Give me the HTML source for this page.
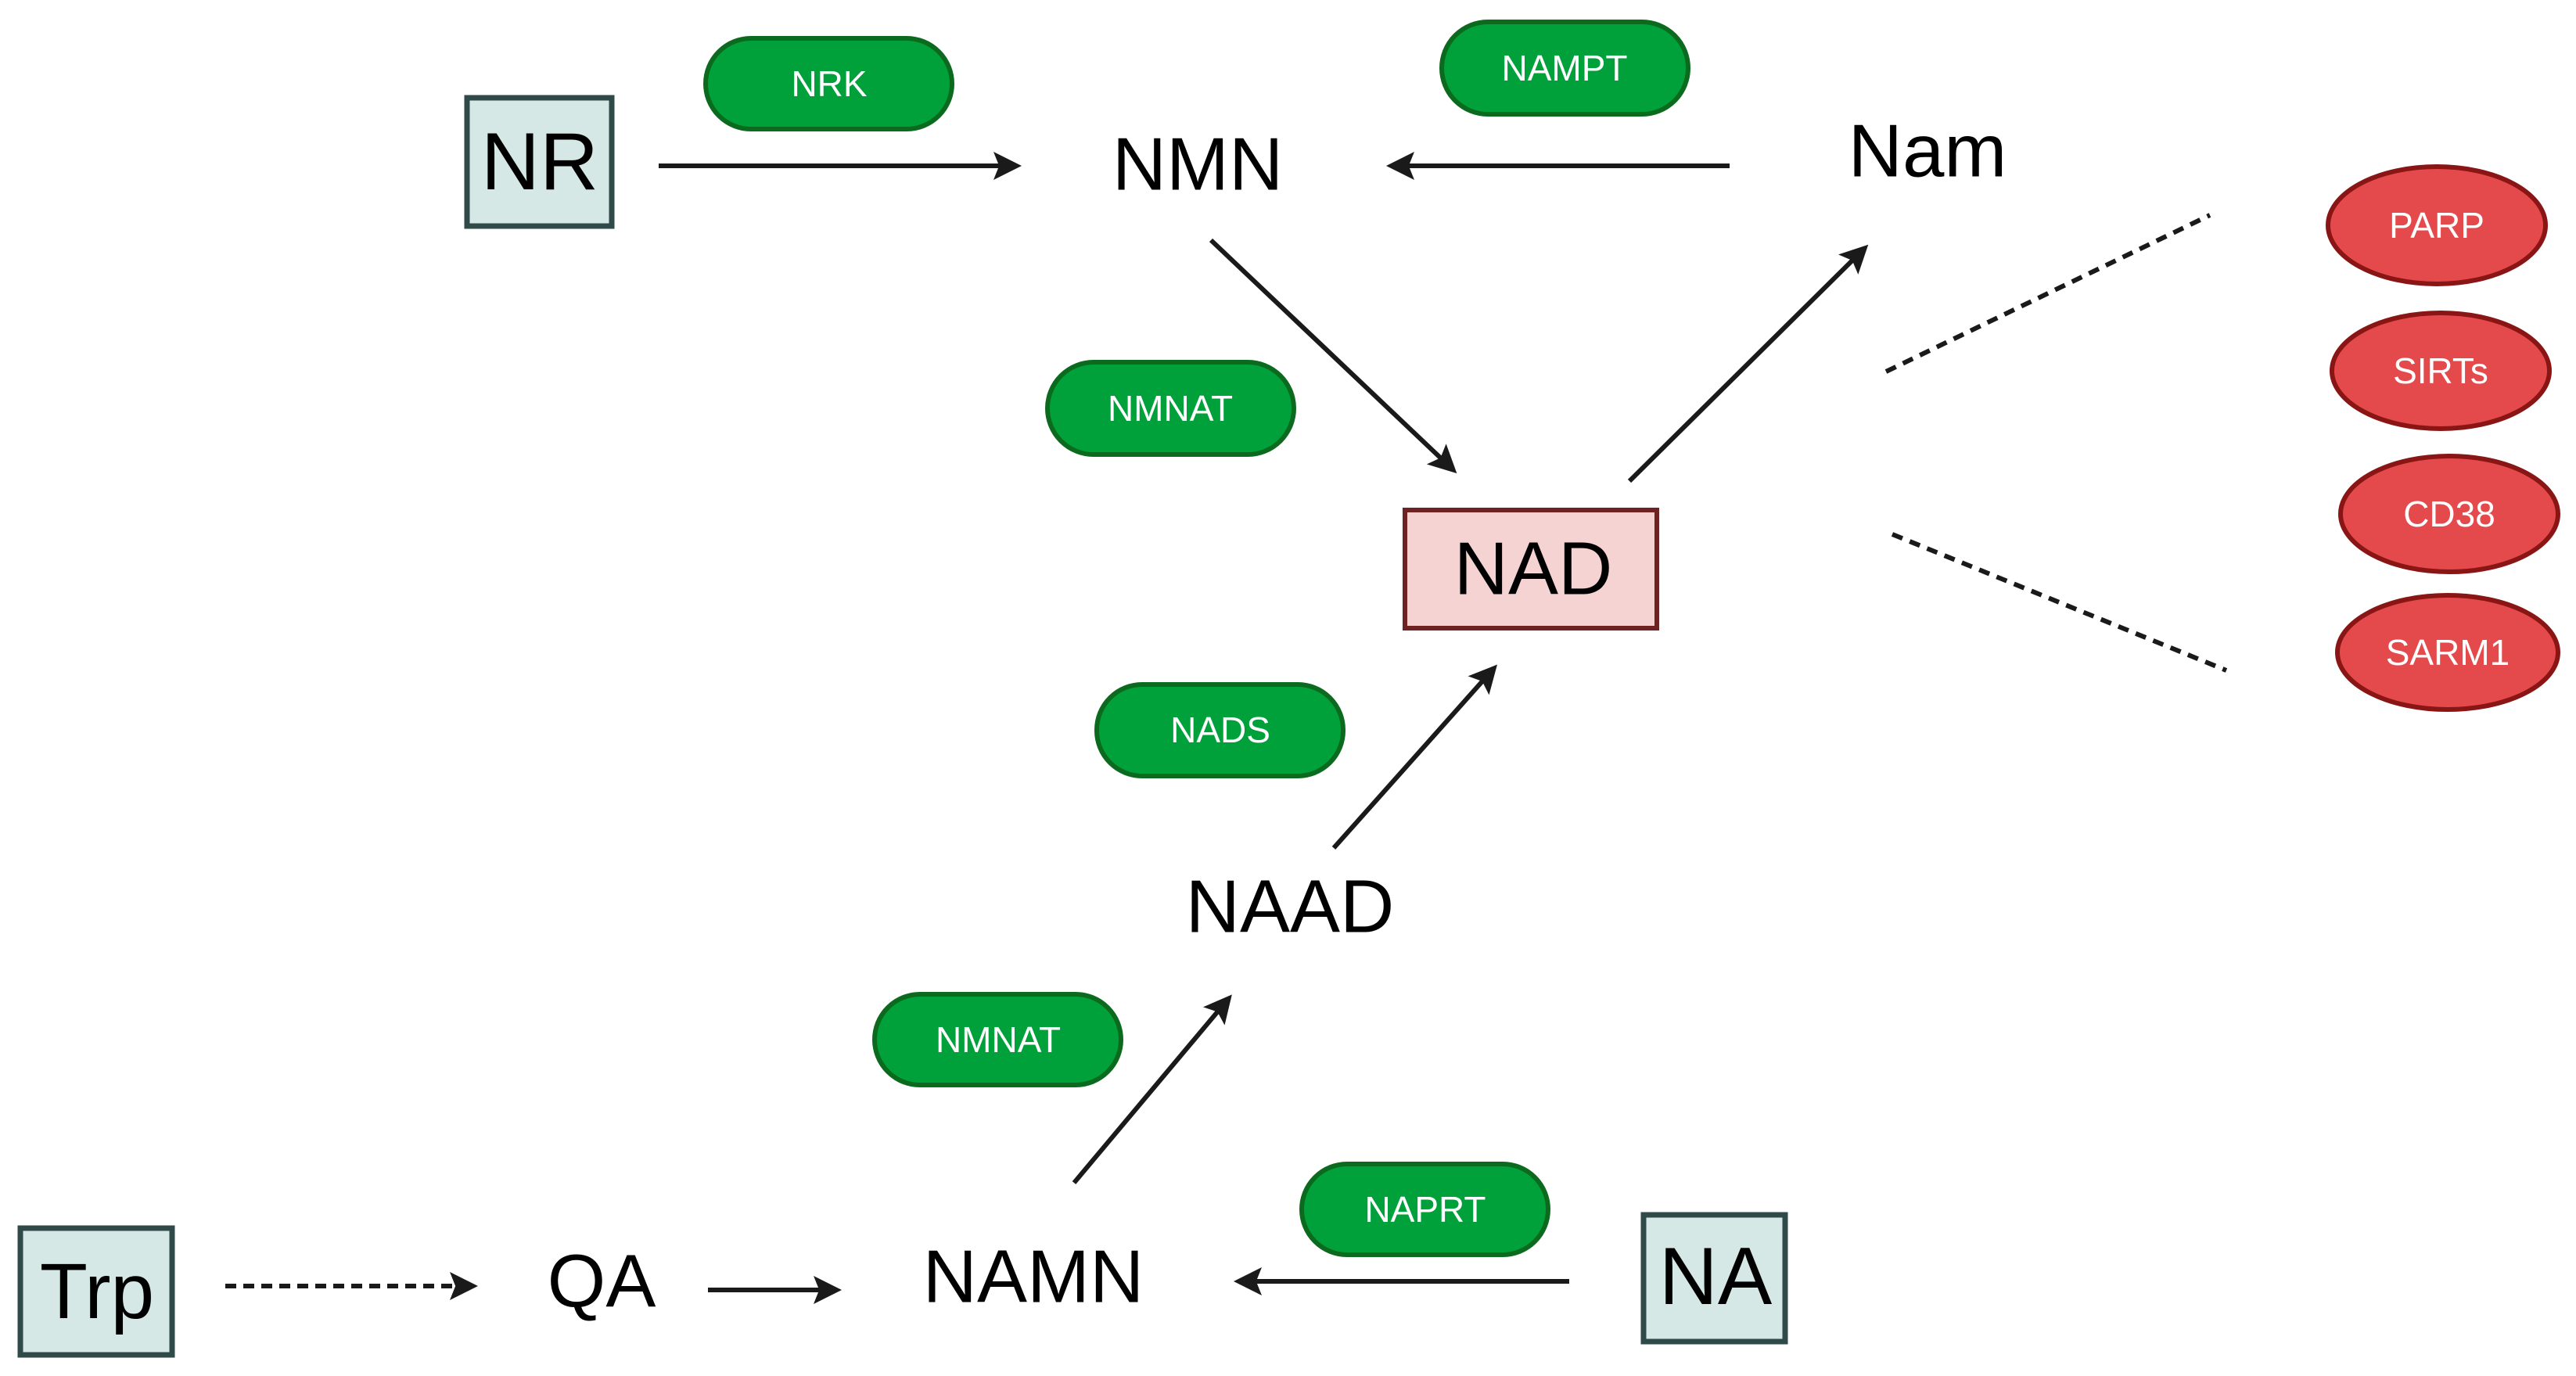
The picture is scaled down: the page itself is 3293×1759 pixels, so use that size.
<!DOCTYPE html>
<html><head><meta charset="utf-8"><style>
html,body{margin:0;padding:0;background:#fff;}
svg{display:block;}
text{font-family:"Liberation Sans",sans-serif;}
</style></head><body>
<svg width="3293" height="1759" viewBox="0 0 3293 1759" xmlns="http://www.w3.org/2000/svg">
<defs>
<marker id="ah" markerWidth="6" markerHeight="6" refX="5" refY="3" orient="auto" markerUnits="strokeWidth">
<path d="M0,0 L6,3 L0,6 L1.2,3 z" fill="#1a1a1a"/>
</marker>
</defs>
<g stroke="#1a1a1a" stroke-width="6" fill="none">
<line x1="842" y1="212" x2="1300" y2="212" marker-end="url(#ah)"/>
<line x1="2211" y1="212" x2="1778" y2="212" marker-end="url(#ah)"/>
<line x1="1548" y1="307" x2="1858" y2="601" marker-end="url(#ah)"/>
<line x1="2083" y1="615" x2="2384" y2="317" marker-end="url(#ah)"/>
<line x1="1705" y1="1084" x2="1910" y2="854" marker-end="url(#ah)"/>
<line x1="1373" y1="1512" x2="1571" y2="1276" marker-end="url(#ah)"/>
<line x1="2006" y1="1638" x2="1583" y2="1638" marker-end="url(#ah)"/>
<line x1="905" y1="1649" x2="1070" y2="1649" marker-end="url(#ah)"/>
<line x1="288" y1="1644" x2="605" y2="1644" stroke-dasharray="14,9" marker-end="url(#ah)"/>
<line x1="2411" y1="475" x2="2825" y2="275" stroke-dasharray="14,10"/>
<line x1="2419" y1="683" x2="2846" y2="857" stroke-dasharray="14,10"/>
</g>
<!-- boxes -->
<g stroke="#2f4a48" stroke-width="7" fill="#d5e8e5">
<rect x="597" y="125" width="185" height="164"/>
<rect x="2101" y="1553" width="181" height="162"/>
<rect x="26" y="1570" width="194" height="162"/>
</g>
<rect x="1796" y="652" width="322" height="151" fill="#f5d3d3" stroke="#6e2222" stroke-width="6"/>
<!-- green pills -->
<g fill="#00a13a" stroke="#0b6a1e" stroke-width="6">
<rect x="902" y="49" width="315" height="116" rx="58"/>
<rect x="1843" y="28" width="315" height="118" rx="59"/>
<rect x="1339" y="463" width="315" height="118" rx="59"/>
<rect x="1402" y="875" width="315" height="117" rx="58"/>
<rect x="1118" y="1271" width="315" height="116" rx="58"/>
<rect x="1664" y="1488" width="315" height="116" rx="58"/>
</g>
<!-- red ellipses -->
<g fill="#e44a4c" stroke="#8a1515" stroke-width="6">
<ellipse cx="3115" cy="288" rx="139" ry="75"/>
<ellipse cx="3120" cy="474" rx="139" ry="74"/>
<ellipse cx="3131" cy="657" rx="139" ry="74"/>
<ellipse cx="3129" cy="834" rx="141" ry="73"/>
</g>
<g fill="#fff" font-size="46" text-anchor="middle" dominant-baseline="central">
<text x="1060" y="107">NRK</text>
<text x="2000" y="87">NAMPT</text>
<text x="1496" y="522">NMNAT</text>
<text x="1560" y="933">NADS</text>
<text x="1276" y="1329">NMNAT</text>
<text x="1822" y="1546">NAPRT</text>
<text x="3115" y="288">PARP</text>
<text x="3120" y="474">SIRTs</text>
<text x="3131" y="657">CD38</text>
<text x="3129" y="834">SARM1</text>
</g>
<g fill="#000" text-anchor="middle" dominant-baseline="central" font-size="96">
<text x="690" y="207" font-size="104">NR</text>
<text x="1531" y="210">NMN</text>
<text x="2464" y="193">Nam</text>
<text x="1960" y="727">NAD</text>
<text x="1649" y="1159">NAAD</text>
<text x="1321" y="1632">NAMN</text>
<text x="769" y="1638">QA</text>
<text x="2193" y="1632" font-size="104">NA</text>
<text x="124" y="1651" font-size="100">Trp</text>
</g>
</svg>
</body></html>
